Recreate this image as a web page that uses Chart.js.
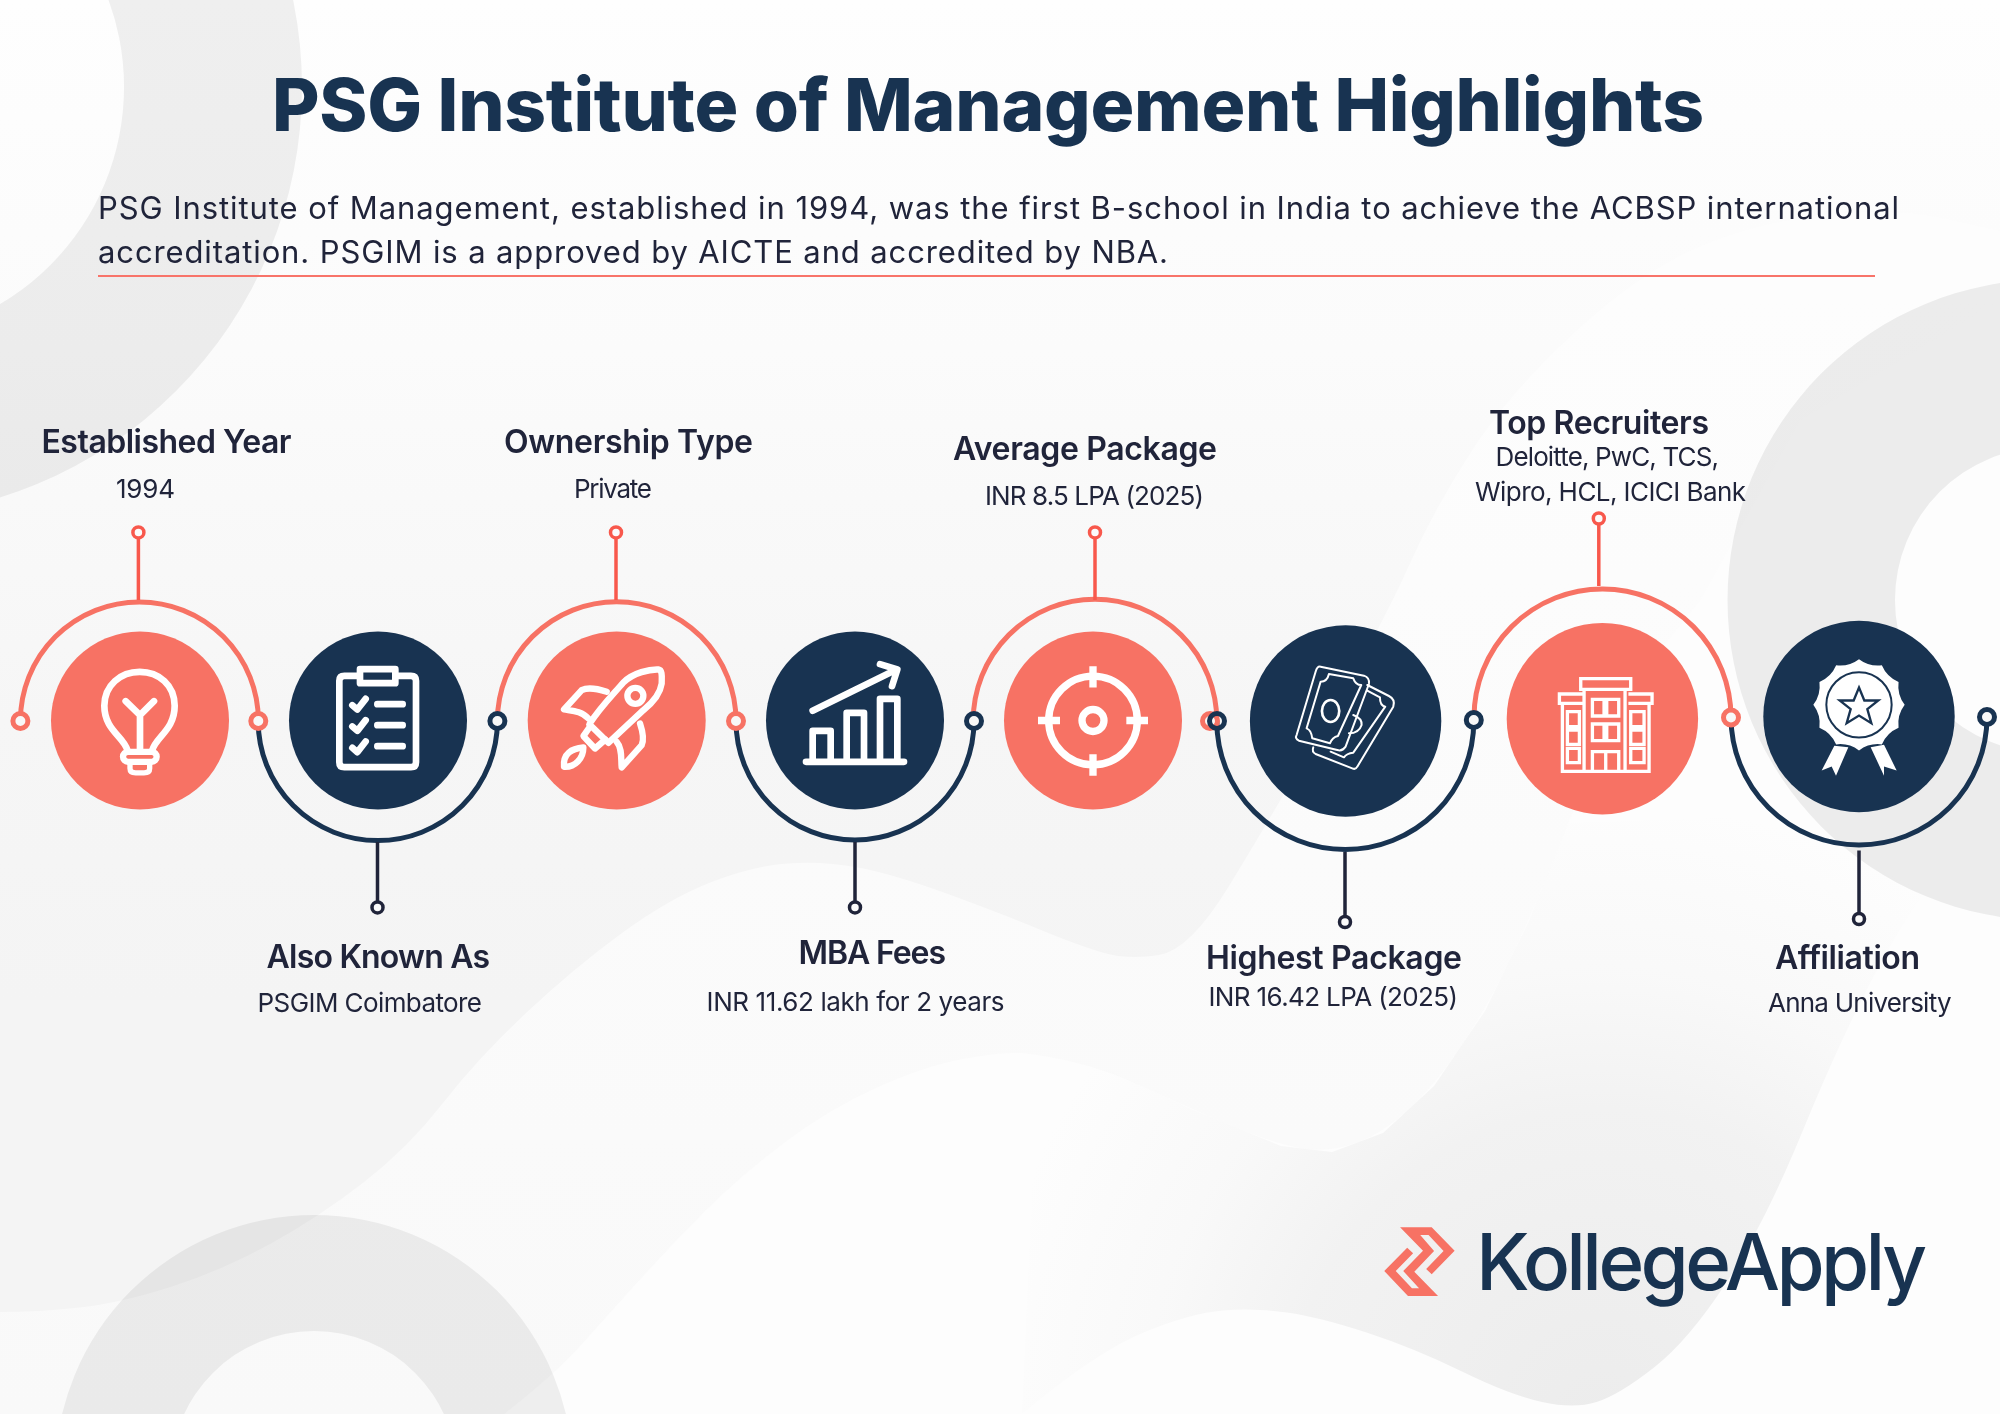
<!DOCTYPE html>
<html>
<head>
<meta charset="utf-8">
<title>PSG Institute of Management Highlights</title>
<script src="https://cdn.jsdelivr.net/npm/chart.js@4"></script>
<style>
  html, body { margin: 0; padding: 0; background: #fff; }
  canvas { display: block; }
</style>
</head>
<body>
<canvas id="chart" width="2000" height="1414"></canvas>
<script>
const titleText = "PSG Institute of Management Highlights";
const introLines = [
  "PSG Institute of Management, established in 1994, was the first B-school in India to achieve the ACBSP international",
  "accreditation. PSGIM is a approved by AICTE and accredited by NBA."
];
const brandName = "KollegeApply";

const headings = ["Established Year", "Also Known As", "Ownership Type", "MBA Fees", "Average Package", "Highest Package", "Top Recruiters", "Affiliation"];
const details = [
  ["1994"],
  ["PSGIM Coimbatore"],
  ["Private"],
  ["INR 11.62 lakh for 2 years"],
  ["INR 8.5 LPA (2025)"],
  ["INR 16.42 LPA (2025)"],
  ["Deloitte, PwC, TCS,", "Wipro, HCL, ICICI Bank"],
  ["Anna University"]
];

// timeline stops
const stopX = [140, 378, 616.7, 855, 1093, 1345.6, 1602.4, 1859];
const stopY = [720.5, 720.5, 720.5, 720.5, 720.5, 721, 718.7, 716.5];
const stopR = [89, 89, 89, 89, 89, 95.7, 95.7, 95.7];
const stopUp = [true, false, true, false, true, false, true, false];

// half circles round each stop
const arcX = [139.4, 377.8, 616.7, 855, 1095, 1345.3, 1602.5, 1859];
const arcY = [721, 721, 721, 721, 721, 721, 717.5, 717];
const arcR = [119, 119.6, 119.3, 119, 121.8, 128.5, 128.5, 128];

// small rings where the half circles meet
const jointX = [20.4, 258.3, 497.4, 736, 974, 1210, 1217, 1473.8, 1731, 1987];
const jointY = [721, 721, 721, 721, 721, 721, 721, 720, 717.5, 717];
const jointNavy = [false, false, true, false, true, false, true, true, false, true];

// stems from the arcs to the label rings
const stemX = [138.4, 377.5, 616, 855, 1095, 1345, 1598.8, 1859];
const stemFrom = [600, 842, 600, 842, 600, 852, 586, 850.5];
const stemTo = [532.4, 907.4, 532.4, 907.4, 532.4, 922, 518.5, 919];

// label boxes: left, right and baseline of each text line
const headLeft = [41.5, 266.6, 504, 798.5, 953, 1206, 1489, 1775];
const headRight = [291.5, 490, 753, 946, 1217, 1462, 1709, 1920];
const headBase = [452.5, 967.7, 452.5, 963.5, 460, 969.4, 433.6, 968.5];
const detailLeft = [[116], [257.6], [574], [706.6], [985], [1208.5], [1495.5, 1475], [1768]];
const detailRight = [[175], [482], [652], [1004.5], [1204], [1458], [1719, 1746], [1951.5]];
const detailBase = [[498], [1012], [498], [1011], [504.7], [1006.4], [466, 501], [1012]];

const SALMON = "#f77264";
const NAVY = "#183351";
const INK = "#20243a";

function fitText(ctx, text, font, left, right, base, color) {
  ctx.font = font;
  ctx.letterSpacing = "0px";
  ctx.textAlign = "left";
  ctx.textBaseline = "alphabetic";
  const w = ctx.measureText(text).width;
  ctx.letterSpacing = ((right - left - w) / (text.length - 1)).toFixed(3) + "px";
  ctx.fillStyle = color;
  ctx.fillText(text, left, base);
  ctx.letterSpacing = "0px";
}

// smooth closed/open path through points
function curve(ctx, pts) {
  ctx.moveTo(pts[0][0], pts[0][1]);
  for (let i = 1; i < pts.length - 1; i++) {
    const mx = (pts[i][0] + pts[i + 1][0]) / 2;
    const my = (pts[i][1] + pts[i + 1][1]) / 2;
    ctx.quadraticCurveTo(pts[i][0], pts[i][1], mx, my);
  }
  const last = pts[pts.length - 1];
  ctx.lineTo(last[0], last[1]);
}

function ring(ctx, x, y, outer, inner, color) {
  ctx.beginPath();
  ctx.arc(x, y, outer, 0, Math.PI * 2);
  ctx.arc(x, y, inner, 0, Math.PI * 2, true);
  ctx.fillStyle = color;
  ctx.fill();
}

const backdrop = {
  id: "backdrop",
  beforeDraw(chart) {
    const ctx = chart.ctx;
    ctx.save();
    const base = ctx.createLinearGradient(0, 0, 0, 1000);
    base.addColorStop(0, "#fefefe");
    base.addColorStop(0.35, "#fbfbfb");
    base.addColorStop(0.72, "#f6f6f6");
    base.addColorStop(1, "#f4f4f4");
    ctx.fillStyle = base;
    ctx.fillRect(0, 0, 2000, 1414);

    // wave under the left labels, runs up to the top right
    ctx.beginPath();
    curve(ctx, [[0, 1312], [38, 1312], [121, 1303], [223, 1270], [319, 1217], [408, 1148], [478, 1058], [574, 968], [670, 898], [753, 866], [823, 861], [893, 874], [1000, 913], [1077, 945], [1128, 960], [1190, 950], [1268, 822], [1383, 624], [1434, 509], [1510, 392], [1638, 274], [1753, 223], [1893, 207], [2000, 231]]);
    ctx.lineTo(2000, 1414);
    ctx.lineTo(0, 1414);
    ctx.closePath();
    const w1 = ctx.createLinearGradient(0, 300, 0, 1414);
    w1.addColorStop(0, "#fdfdfd");
    w1.addColorStop(1, "#f9f9f9");
    ctx.fillStyle = w1;
    ctx.fill();

    // second, whiter wave
    ctx.beginPath();
    curve(ctx, [[504, 1414], [555, 1374], [606, 1317], [670, 1246], [740, 1176], [829, 1109], [925, 1066], [1000, 1052], [1038, 1054], [1108, 1070], [1191, 1109], [1281, 1146], [1332, 1152], [1383, 1133], [1434, 1086], [1485, 1011], [1529, 921], [1568, 823], [1620, 700], [1700, 600]]);
    ctx.lineTo(1800, 420);
    ctx.lineTo(2000, 300);
    ctx.lineTo(2000, 1414);
    ctx.closePath();
    ctx.fillStyle = "#fdfdfd";
    ctx.fill();

    // soft grey blob behind the logo, fades out towards its top and sides
    ctx.beginPath();
    curve(ctx, [[1022, 1414], [1096, 1352], [1191, 1313], [1255, 1308], [1319, 1317], [1414, 1348], [1510, 1395], [1574, 1409], [1619, 1395], [1689, 1340], [1765, 1223], [1842, 1035], [1918, 894], [2000, 808]]);
    ctx.lineTo(1568, 823);
    [[1529, 921], [1485, 1011], [1434, 1086], [1383, 1133], [1332, 1152], [1281, 1146], [1191, 1109], [1108, 1070], [1038, 1054]].forEach(p => ctx.lineTo(p[0], p[1]));
    ctx.closePath();
    const blob = ctx.createRadialGradient(1600, 1420, 0, 1600, 1420, 620);
    blob.addColorStop(0, "rgba(236,236,236,1)");
    blob.addColorStop(0.5, "rgba(236,236,236,0.65)");
    blob.addColorStop(0.72, "rgba(236,236,236,0.25)");
    blob.addColorStop(1, "rgba(236,236,236,0)");
    ctx.fillStyle = blob;
    ctx.fill();

    // big rings
    ring(ctx, -128, 87, 430, 252, "rgba(0,0,0,0.06)");
    ring(ctx, 2048, 600, 320.5, 153, "rgba(0,0,0,0.065)");
    ring(ctx, 314, 1474, 259, 143, "rgba(0,0,0,0.06)");
    ctx.restore();
  }
};

const halfCircles = {
  id: "halfCircles",
  beforeDatasetsDraw(chart) {
    const ctx = chart.ctx, xs = chart.scales.x, ys = chart.scales.y;
    ctx.save();
    ctx.lineWidth = 5;
    arcX.forEach((x, i) => {
      ctx.beginPath();
      // top half for salmon stops, bottom half for navy stops
      ctx.arc(xs.getPixelForValue(x), ys.getPixelForValue(arcY[i]), arcR[i], Math.PI, 0, !stopUp[i]);
      ctx.strokeStyle = stopUp[i] ? SALMON : NAVY;
      ctx.stroke();
    });
    ctx.lineWidth = 2;
    ctx.strokeStyle = "#f8746a";
    ctx.beginPath();
    ctx.moveTo(xs.getPixelForValue(98), ys.getPixelForValue(276));
    ctx.lineTo(xs.getPixelForValue(1875), ys.getPixelForValue(276));
    ctx.stroke();
    ctx.restore();
  }
};

// each icon is traced in 3x crop units round its own centre
const iconDraw = [
  // bulb
  (c) => {
    c.lineWidth = 20;
    c.stroke(new Path2D("M290,390 C280,350 221,330 221,257 C221,195 270,155 327,155 C385,155 432,195 432,257 C432,330 375,350 365,390"));
    c.stroke(new Path2D("M285,243 L328,285 L370,243 M328,285 V390"));
    c.lineWidth = 19;
    c.stroke(new Path2D("M292,395 H363 A15,15 0 0 1 363,425 H292 A15,15 0 0 1 292,395 Z"));
    c.lineWidth = 16;
    c.stroke(new Path2D("M298,428 V445 Q298,458 315,458 H340 Q357,458 357,445 V428"));
  },
  // clipboard
  (c) => {
    c.lineWidth = 20;
    c.stroke(new Path2D("M943,167 H1143 Q1158,167 1158,182 V426 Q1158,441 1143,441 H943 Q928,441 928,426 V182 Q928,167 943,167 Z"));
    c.fillStyle = NAVY;
    c.fill(new Path2D("M990,147 H1096 V189 H990 Z"));
    c.stroke(new Path2D("M990,147 H1096 V189 H990 Z"));
    c.stroke(new Path2D("M967,255 L982,268 L1007,236 M1042,252 H1118 M967,319 L982,332 L1007,300 M1042,315 H1118 M967,383 L982,396 L1007,364 M1042,378 H1118"));
  },
  // rocket
  (c) => {
    c.lineWidth = 19;
    c.stroke(new Path2D("M268,312 C300,262 340,222 370,187 C400,157 450,147 475,148 C488,150 485,170 485,190 C480,225 455,250 430,270 L325,368 Z"));
    c.stroke(new Path2D("M430,227 A24,24 0 1 1 382,227 A24,24 0 1 1 430,227 Z"));
    c.stroke(new Path2D("M320,215 C290,205 265,200 245,210 L192,268 C215,272 245,272 265,295"));
    c.stroke(new Path2D("M420,310 C430,340 432,360 425,375 L365,442 C362,420 368,385 350,365"));
    c.stroke(new Path2D("M268,322 L250,348 L285,385 L316,358"));
    c.stroke(new Path2D("M192,440 C188,400 215,385 250,382 C250,415 225,442 192,440 Z"));
  },
  // bars and arrow
  (c) => {
    c.lineWidth = 20;
    c.stroke(new Path2D("M918,425 H1212 M938,415 V332 H992 V415 M1040,415 V278 H1092 V415 M1140,415 V236 H1192 V415 M938,272 L1185,150 M1140,132 L1192,148 L1176,198"));
  },
  // target
  (c) => {
    c.lineWidth = 22;
    c.stroke(new Path2D("M476,331 A133,133 0 1 1 210,331 A133,133 0 1 1 476,331 Z M376,331 A33,33 0 1 1 310,331 A33,33 0 1 1 376,331 Z"));
    c.lineCap = "butt";
    c.stroke(new Path2D("M343,168 V232 M343,432 V497 M178,331 H244 M443,331 H508"));
  },
  // banknotes
  (c) => {
    c.lineWidth = 6;
    c.stroke(new Path2D("M1160,225 L1225,258 Q1245,268 1238,290 L1130,470 Q1125,480 1115,475 L1005,432 Q993,425 998,412"));
    c.stroke(new Path2D("M1160,242 L1198,262 Q1198,288 1214,290 L1118,428 Q1098,430 1090,442 L1050,425"));
    c.stroke(new Path2D("M1020,170 L1150,197 Q1168,203 1165,222 L1095,410 Q1085,425 1070,420 L955,392 Q942,385 948,375 L1005,185 Q1010,168 1020,170 Z"));
    c.stroke(new Path2D("M1045,192 L1118,205 Q1125,225 1142,225 L1072,378 Q1055,382 1048,400 L995,385 Q992,360 978,355 L1020,215 Q1040,215 1045,192 Z"));
    c.lineWidth = 8;
    c.stroke(new Path2D("M1076,303 A26,33 0 1 1 1024,303 A26,33 0 1 1 1076,303 Z"));
    c.lineWidth = 6;
    c.stroke(new Path2D("M1118,315 Q1145,325 1143,345 Q1135,370 1105,370"));
  },
  // building
  (c) => {
    c.lineWidth = 10;
    c.lineCap = "butt";
    c.lineJoin = "miter";
    c.stroke(new Path2D("M312,484 V238 H435 V484 M302,206 H452 V238 H302 Z M308,252 H238 V280 H308 M445,252 H516 V280 H445 M247,280 V484 H507 V280"));
    c.stroke(new Path2D("M337,268 H372 V318 H337 Z M380,268 H416 V318 H380 Z M337,342 H372 V392 H337 Z M380,342 H416 V392 H380 Z"));
    c.stroke(new Path2D("M262,305 H298 V350 H262 Z M262,360 H298 V403 H262 Z M262,415 H298 V458 H262 Z M452,305 H492 V350 H452 Z M452,360 H492 V403 H452 Z M452,415 H492 V458 H452 Z"));
    c.stroke(new Path2D("M337,484 V425 H416 V484 M377,425 V484"));
  },
  // badge
  (c) => {
    c.fillStyle = "#fff";
    c.beginPath();
    for (let i = 0; i < 12; i++) {
      const a = (i / 12) * Math.PI * 2 - Math.PI / 2;
      const m = a + Math.PI / 12;
      const n = a + Math.PI / 6;
      if (i === 0) c.moveTo(1137 + 137 * Math.cos(a), 285 + 137 * Math.sin(a));
      c.quadraticCurveTo(1137 + 118 * Math.cos(m), 285 + 118 * Math.sin(m), 1137 + 137 * Math.cos(n), 285 + 137 * Math.sin(n));
    }
    c.closePath();
    c.fill();
    c.fill(new Path2D("M1063,408 L1105,412 L1068,498 L1055,470 L1025,482 Z M1172,412 L1212,405 L1250,482 L1212,470 L1212,498 Z"));
    c.strokeStyle = NAVY;
    c.lineWidth = 6;
    c.stroke(new Path2D("M1235,285 A98,98 0 1 1 1039,285 A98,98 0 1 1 1235,285 Z"));
    c.lineWidth = 7;
    c.lineJoin = "miter";
    c.stroke(new Path2D("M1137,233 L1153,272 L1195,272 L1162,298 L1174,340 L1137,317 L1100,340 L1112,298 L1079,272 L1121,272 Z"));
  }
];
const iconCentre = [[328, 301], [1044, 301], [350, 301], [1065, 301], [343, 331], [1095, 333], [367, 326], [1137, 320]];

const icons = {
  id: "icons",
  afterDatasetsDraw(chart) {
    const ctx = chart.ctx, xs = chart.scales.x, ys = chart.scales.y;
    iconDraw.forEach((draw, i) => {
      ctx.save();
      ctx.translate(xs.getPixelForValue(stopX[i]), ys.getPixelForValue(stopY[i]));
      ctx.scale(1 / 3, 1 / 3);
      ctx.translate(-iconCentre[i][0], -iconCentre[i][1]);
      ctx.strokeStyle = "#fff";
      ctx.lineCap = "round";
      ctx.lineJoin = "round";
      draw(ctx);
      ctx.restore();
    });
  }
};

const labels = {
  id: "labels",
  afterDraw(chart) {
    const ctx = chart.ctx, xs = chart.scales.x, ys = chart.scales.y;
    ctx.save();
    fitText(ctx, titleText, "800 73px Inter", xs.getPixelForValue(272), xs.getPixelForValue(1704), ys.getPixelForValue(131), NAVY);
    fitText(ctx, introLines[0], "400 31px Inter", xs.getPixelForValue(98), xs.getPixelForValue(1899), ys.getPixelForValue(219), INK);
    fitText(ctx, introLines[1], "400 31px Inter", xs.getPixelForValue(98), xs.getPixelForValue(1168), ys.getPixelForValue(262.5), INK);
    headings.forEach((h, i) => {
      fitText(ctx, h, "600 32px Inter", xs.getPixelForValue(headLeft[i]), xs.getPixelForValue(headRight[i]), ys.getPixelForValue(headBase[i]), INK);
      details[i].forEach((d, j) => {
        fitText(ctx, d, "400 26px Inter", xs.getPixelForValue(detailLeft[i][j]), xs.getPixelForValue(detailRight[i][j]), ys.getPixelForValue(detailBase[i][j]), INK);
      });
    });
    fitText(ctx, brandName, "500 78px Inter", xs.getPixelForValue(1476), xs.getPixelForValue(1927), ys.getPixelForValue(1289.5), NAVY);
    ctx.translate(xs.getPixelForValue(1340), ys.getPixelForValue(1190));
    ctx.scale(1 / 2.53, 1 / 3);
    ctx.fillStyle = SALMON;
    ctx.fill(new Path2D("M152,112 L232,112 L290,182 L232,253 L218,237 L262,183 L224,135 L203,135 L238,183 L188,245 L248,318 L172,318 L112,243 L170,173 L185,190 L141,243 L182,295 L200,295 L160,243 L210,182 Z"));
    ctx.restore();
  }
};

const stemData = stemX.map((x, i) => ({
  type: "line",
  data: [{ x: x, y: stemFrom[i] }, { x: x, y: stemTo[i] }],
  borderColor: stopUp[i] ? "#f8584c" : INK,
  borderWidth: 3.5,
  pointRadius: 0,
  order: 5
}));

new Chart(document.getElementById("chart"), {
  type: "bubble",
  data: {
    datasets: [
      // rings on the stem ends
      {
        type: "scatter",
        data: stemX.map((x, i) => ({ x: x, y: stemTo[i] })),
        pointRadius: 5.5,
        pointBorderWidth: 3.5,
        pointBackgroundColor: "#fbfbfb",
        pointBorderColor: stopUp.map(u => u ? "#f8584c" : INK),
        order: 1
      },
      // rings at the joints
      {
        type: "scatter",
        data: jointX.map((x, i) => ({ x: x, y: jointY[i] })),
        pointRadius: 7.5,
        pointBorderWidth: 5,
        pointBackgroundColor: jointNavy.map((n, i) => i === 6 ? "rgba(0,0,0,0)" : "#f8f8f8"),
        pointBorderColor: jointNavy.map(n => n ? NAVY : SALMON),
        order: 1
      },
      ...stemData,
      // the big circles
      {
        data: stopX.map((x, i) => ({ x: x, y: stopY[i], r: stopR[i] })),
        backgroundColor: stopUp.map(u => u ? SALMON : NAVY),
        borderWidth: 0,
        order: 6
      }
    ]
  },
  options: {
    responsive: false,
    animation: false,
    layout: { padding: 0, autoPadding: false },
    clip: false,
    scales: {
      x: { type: "linear", min: 0, max: 2000, display: false },
      y: { type: "linear", min: 0, max: 1414, reverse: true, display: false }
    },
    plugins: {
      legend: { display: false },
      tooltip: { enabled: false }
    }
  },
  plugins: [backdrop, halfCircles, icons, labels]
});
</script>
</body>
</html>
